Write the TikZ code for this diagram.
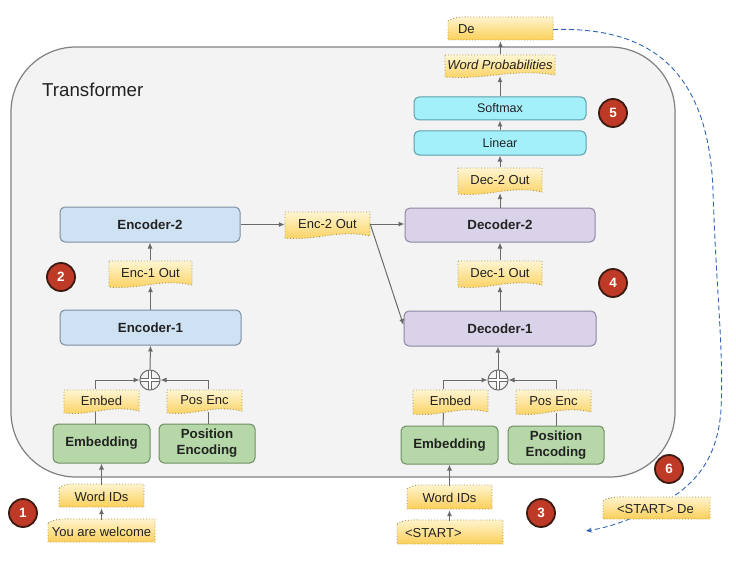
\documentclass[tikz,border=0pt]{standalone}
\usepackage{fontspec}
\setmainfont{Liberation Sans}
\usetikzlibrary{arrows.meta}
\definecolor{boxbg}{HTML}{F3F3F3}
\definecolor{boxbd}{HTML}{808080}
\definecolor{encfill}{HTML}{CFE2F3}
\definecolor{encdraw}{HTML}{7B8FA3}
\definecolor{decfill}{HTML}{D9D2E9}
\definecolor{decdraw}{HTML}{8E86A4}
\definecolor{cyfill}{HTML}{A4F0FA}
\definecolor{cydraw}{HTML}{5C9FAC}
\definecolor{grfill}{HTML}{B6D7A8}
\definecolor{grdraw}{HTML}{6E8F62}
\definecolor{notelt}{HTML}{FFF5D2}
\definecolor{notedk}{HTML}{FBD05A}
\definecolor{notebd}{HTML}{A8944E}
\definecolor{arrgray}{HTML}{6A6A6A}
\definecolor{dashblue}{HTML}{2F64B8}
\definecolor{badgered}{HTML}{BE3A26}
\definecolor{badgebd}{HTML}{3B1A12}
\definecolor{txt}{HTML}{222222}
\tikzset{
  blk/.style={rounded corners=5pt, line width=1pt, inner sep=0pt, align=center,
    font=\fontsize{13.3}{16}\selectfont\bfseries, text=txt},
  encb/.style={blk, fill=encfill, draw=encdraw},
  decb/.style={blk, fill=decfill, draw=decdraw},
  cyb/.style={blk, fill=cyfill, draw=cydraw, font=\fontsize{12.5}{14}\selectfont},
  grb/.style={blk, fill=grfill, draw=grdraw},
  notefill/.style={top color=notelt, bottom color=notedk, draw=notebd, dotted, line width=0.9pt},
  notetxt/.style={inner sep=0pt, font=\fontsize{13}{15}\selectfont, text=txt},
  arr/.style={-{Latex[length=6pt,width=5pt]}, draw=arrgray, line width=1pt},
  gline/.style={draw=arrgray, line width=1pt},
  dashline/.style={draw=dashblue, dashed, dash pattern=on 5pt off 3pt, line width=0.9pt, -{Stealth[length=6pt,width=5pt]}},
  badge/.style={circle, fill=badgered, draw=badgebd, line width=1.8pt, minimum size=28pt, inner sep=0pt,
    text=white, font=\fontsize{13.5}{14}\selectfont\bfseries},
  sumnode/.style={circle, draw=arrgray, line width=1pt, minimum size=20pt, inner sep=0pt, fill=boxbg,
    path picture={
      \draw[line width=4.6pt, draw=arrgray] (path picture bounding box.north) -- (path picture bounding box.south)
        (path picture bounding box.west) -- (path picture bounding box.east);
      \draw[line width=2.6pt, draw=white] (path picture bounding box.north) -- (path picture bounding box.south)
        (path picture bounding box.west) -- (path picture bounding box.east);}},
}
% note with wavy bottom: [opts], name, x0, y0, x1, y1, text
\newcommand\noteB[7][]{%
  \pgfmathsetmacro\nw{#5-#3}\pgfmathsetmacro\nh{#6-#4}%
  \path[notefill] (#3,#4) -- (#5,#4) -- (#5,{#6-2})
     .. controls ({#3+0.62*\nw},{#6-9}) and ({#3+0.38*\nw},{#6+3}) .. (#3,#6) -- cycle;
  \node[notetxt, minimum width=\nw pt, minimum height=\nh pt, #1] (#2) at ({(#3+#5)/2},{(#4+#6)/2-1}) {#7};}
% note with wavy top
\newcommand\noteT[7][]{%
  \pgfmathsetmacro\nw{#5-#3}\pgfmathsetmacro\nh{#6-#4}%
  \path[notefill] (#3,{#4+4}) .. controls ({#3+0.08*\nw},{#4-1}) and ({#3+0.15*\nw},#4) .. ({#3+0.25*\nw},#4)
     -- (#5,#4) -- (#5,#6) -- (#3,#6) -- cycle;
  \node[notetxt, minimum width=\nw pt, minimum height=\nh pt, #1] (#2) at ({(#3+#5)/2},{(#4+#6)/2+1}) {#7};}
\begin{document}
\begin{tikzpicture}[x=1pt, y=-1pt]
\useasboundingbox (0,0) rectangle (736,567);
% container
\draw[fill=boxbg, draw=boxbd, line width=1.2pt, rounded corners=65pt] (11,47) rectangle (675,477);
\node[anchor=west, inner sep=0pt, font=\fontsize{18.7}{20}\selectfont, text=txt] (title) at (42,90) {Transformer};

% encoder side
\node[encb, minimum width=180pt, minimum height=35pt] (enc2) at (150,224.5) {Encoder-2};
\node[encb, minimum width=181pt, minimum height=35pt] (enc1) at (150.5,327.5) {Encoder-1};
\node[grb, minimum width=97pt, minimum height=39pt] (embA) at (101.5,443.5) {Embedding};
\node[grb, minimum width=96pt, minimum height=39pt] (posA) at (207,443.5) {Position\\Encoding};
\node[sumnode] (sumA) at (150,380) {};
\noteB{enc1out}{109}{261}{192}{287}{Enc-1 Out}
\noteB{enc2out}{285}{212}{370}{238}{Enc-2 Out}
\noteB{embedA}{64}{390}{139}{413}{Embed}
\noteB{posencA}{167}{390}{242}{413}{Pos Enc}
\noteT{wordidsA}{59}{484}{144}{507}{Word IDs}
\noteT{youare}{48}{519}{155}{542}{You are welcome}

% decoder side
\node[decb, minimum width=190pt, minimum height=34pt] (dec2) at (500,225) {Decoder-2};
\node[decb, minimum width=192pt, minimum height=35pt] (dec1) at (500,328.5) {Decoder-1};
\node[grb, minimum width=97pt, minimum height=38pt] (embB) at (449.5,445) {Embedding};
\node[grb, minimum width=96pt, minimum height=38pt] (posB) at (556,445) {Position\\Encoding};
\node[sumnode] (sumB) at (498,380) {};
\node[cyb, minimum width=172pt, minimum height=24pt] (linear) at (500,143) {Linear};
\node[cyb, minimum width=172pt, minimum height=23pt] (softmax) at (500,108.5) {Softmax};
\noteB{dec1out}{458}{261}{542}{287}{Dec-1 Out}
\noteB{dec2out}{458}{168}{542}{194}{Dec-2 Out}
\noteB{embedB}{413}{390}{488}{414}{Embed}
\noteB{posencB}{516}{390}{591}{414}{Pos Enc}
\noteT{wordidsB}{407}{485}{492}{509}{Word IDs}
\noteT{start}{397}{520}{503}{544}{\makebox[106pt][l]{\hspace{8pt}<START>}}
\noteB[font=\fontsize{13}{15}\selectfont\itshape]{wordprob}{445}{55}{555}{77}{Word Probabilities}
\noteT{de}{448}{17}{553}{40}{\makebox[105pt][l]{\hspace{10pt}De}}

% encoder connectors
\draw[gline] ([xshift=-6.5pt]embA.north) -- ([xshift=-6.5pt]embedA.south);
\draw[arr] ([xshift=-6.5pt]embedA.north) |- (sumA.west);
\draw[gline] ([xshift=1pt]posA.north) -- ([xshift=3.5pt]posencA.south);
\draw[arr] ([xshift=3.5pt]posencA.north) |- (sumA.east);
\draw[arr] (sumA.north) -- (enc1.south);
\draw[arr] (enc1.north) -- (enc1.north |- enc1out.south);
\draw[arr] (enc1out.north -| enc2.south) -- (enc2.south);
\draw[arr] (enc2.east) -- (enc2.east -| enc2out.west);
\draw[arr] (youare.north -| wordidsA.south) -- (wordidsA.south);
\draw[arr] (wordidsA.north) -- (embA.south);

% decoder connectors
\draw[gline] ([xshift=-6.5pt]embB.north) -- ([xshift=-7pt]embedB.south);
\draw[arr] ([xshift=-7pt]embedB.north) |- (sumB.west);
\draw[gline] (posB.north) -- ([xshift=2.5pt]posencB.south);
\draw[arr] ([xshift=2.5pt]posencB.north) |- (sumB.east);
\draw[arr] (sumB.north) -- (sumB.north |- dec1.south);
\draw[arr] (dec1.north) -- (dec1.north |- dec1out.south);
\draw[arr] (dec1out.north -| dec2.south) -- (dec2.south);
\draw[arr] (dec2.north) -- (dec2.north |- dec2out.south);
\draw[arr] (dec2out.north -| linear.south) -- (linear.south);
\draw[arr] (linear.north) -- (softmax.south);
\draw[arr] (softmax.north) -- (softmax.north |- wordprob.south);
\draw[arr] (wordprob.north -| de.south) -- (de.south);
\draw[arr] (start.north -| wordidsB.south) -- (wordidsB.south);
\draw[arr] (wordidsB.north) -- (wordidsB.north |- embB.south);
\draw[arr] (enc2out.east) -- (enc2out.east -| dec2.west);
\draw[arr] (enc2out.east) -- ([yshift=3.5pt]dec1.west);

% feedback loop
\coordinate (loopend) at (586,531);
\draw[dashline] (de.east) .. controls (640,27) and (708,60) .. (713,190)
   .. controls (716,290) and (724,350) .. (721,410)
   .. controls (717,465) and (690,490) .. (650,510)
   .. controls (625,522) and (605,528) .. (loopend);
\noteT{startde}{603}{497}{710}{519}{\makebox[107pt][l]{\hspace{14pt}<START> De}}

% badges
\node[badge] (b1) at (23,513) {1};
\node[badge] (b2) at (61,277) {2};
\node[badge] (b3) at (541,513) {3};
\node[badge] (b4) at (613,283) {4};
\node[badge] (b5) at (613,113) {5};
\node[badge] (b6) at (669,469) {6};
\end{tikzpicture}
\end{document}
